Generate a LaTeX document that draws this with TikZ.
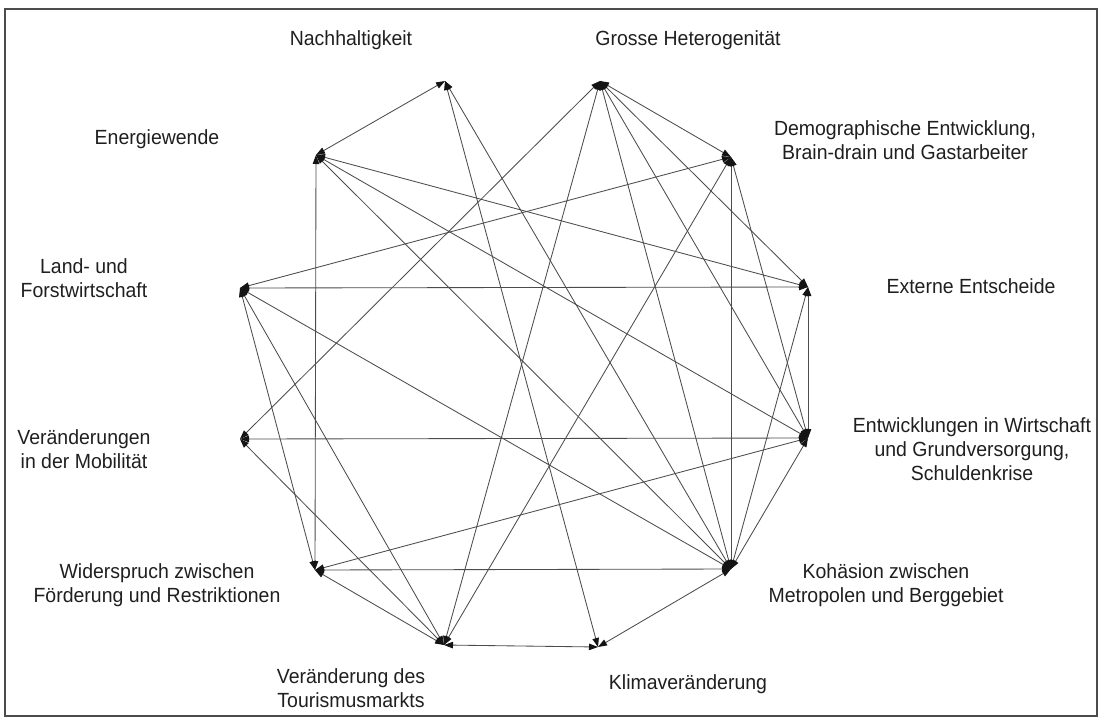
\documentclass[tikz,border=0pt]{standalone}
\usepackage{fontspec}
\setmainfont[FakeStretch=0.95]{Liberation Sans}
\usetikzlibrary{arrows.meta}
\begin{document}
\begin{tikzpicture}[x=1pt,y=-1pt,
  lbl/.style={align=center,font=\fontsize{20.5}{24}\selectfont,inner sep=0pt,text=black!88},
  tip/.style={},
  link/.style={draw=black!70,line width=0.85pt,
    {Triangle[length=9pt,width=6.5pt,color=black!92]}-{Triangle[length=9pt,width=6.5pt,color=black!92]}}]
\useasboundingbox (0,0) rectangle (1102,720);
\draw[black!70,line width=1.2pt] (5,9) rectangle (1097,716);
% hub points
\coordinate (N) at (445,81);
\coordinate (G) at (600,81);
\coordinate (D) at (731,157);
\coordinate (E) at (808,287);
\coordinate (W) at (808,438);
\coordinate (K) at (731,569);
\coordinate (C) at (598,647);
\coordinate (T) at (444,645);
\coordinate (R) at (315,570);
\coordinate (M) at (240,439);
\coordinate (L) at (240,288);
\coordinate (EN) at (316,155);
% labels
\node[lbl] (tN) at (351,40) {Nachhaltigkeit};
\node[lbl] (tG) at (688,40) {Grosse Heterogenität};
\node[lbl] (tD) at (905,140) {Demographische Entwicklung,\\Brain-drain und Gastarbeiter};
\node[lbl] (tE) at (971,286) {Externe Entscheide};
\node[lbl] (tW) at (972,449) {Entwicklungen in Wirtschaft\\und Grundversorgung,\\Schuldenkrise};
\node[lbl] (tK) at (886,585) {Kohäsion zwischen\\Metropolen und Berggebiet};
\node[lbl] (tC) at (688,684) {Klimaveränderung};
\node[lbl] (tT) at (351,688) {Veränderung des\\Tourismusmarkts};
\node[lbl] (tR) at (157,585) {Widerspruch zwischen\\Förderung und Restriktionen};
\node[lbl] (tM) at (84,449) {Veränderungen\\in der Mobilität};
\node[lbl] (tL) at (84,278) {Land- und\\Forstwirtschaft};
\node[lbl] (tEN) at (157,139) {Energiewende};
% connectors
\foreach \a/\b in {EN/N, EN/R, EN/E, EN/W, EN/K, N/C, N/K, G/M, G/T, G/D, G/E, G/W, G/K,
  D/L, D/K, D/T, D/W, L/E, L/K, L/R, L/T, M/W, M/T, R/K, R/W, R/T, T/C, C/K, K/E, E/W, K/W}
  \draw[link] (\a) -- (\b);
\end{tikzpicture}
\end{document}
